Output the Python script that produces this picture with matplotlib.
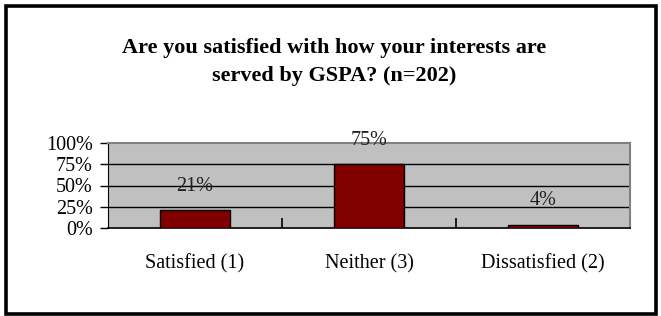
import matplotlib
matplotlib.use('Agg')
import matplotlib.pyplot as plt
from matplotlib.patches import Rectangle

# survey data
categories = ['Satisfied (1)', 'Neither (3)', 'Dissatisfied (2)']
values = [21, 75, 4]
value_labels = ['21%', '75%', '4%']
yticks = [0, 25, 50, 75, 100]
ytick_labels = ['0%', '25%', '50%', '75%', '100%']
title = 'Are you satisfied with how your interests are\nserved by GSPA? (n=202)'

plt.rcParams['font.family'] = ['Liberation Serif', 'DejaVu Serif']

W, H = 661, 316
fig = plt.figure(figsize=(W / 100, H / 100), dpi=100)

# plot area in pixels: x 108..630, y 143..228
ax = fig.add_axes([108 / W, (H - 228) / H, 522 / W, 85 / H])
ax.set_facecolor('#C0C0C0')

x = list(range(len(categories)))
ax.bar(x, values, width=0.4, color='#800000', edgecolor='black', linewidth=1, zorder=3)

for xi, v, lab in zip(x, values, value_labels):
    ax.annotate(lab, xy=(xi, v), xytext=(0, 17), textcoords='offset points',
                ha='center', va='center', fontsize=14.5, color='#222222', zorder=4)

ax.set_xlim(-0.5, len(categories) - 0.5)
ax.set_ylim(0, 100)

ax.set_yticks(yticks)
ax.set_yticklabels(ytick_labels, fontsize=14.5)
ax.tick_params(axis='y', direction='out', length=6, width=1, pad=5)

ax.set_xticks(x)
ax.set_xticklabels(categories, fontsize=14.5)
ax.tick_params(axis='x', which='major', length=0, pad=19)
ax.set_xticks([0.5, 1.5, 2.5], minor=True)
ax.tick_params(axis='x', which='minor', direction='in', length=7, width=1.2, zorder=5)

for yv in yticks[1:-1]:
    ax.axhline(yv, color='black', linewidth=1, zorder=2)

ax.spines['left'].set_color('black')
ax.spines['bottom'].set_color('black')
ax.spines['bottom'].set_linewidth(1.2)
ax.spines['top'].set_color('#808080')
ax.spines['right'].set_color('#808080')
ax.spines['top'].set_linewidth(1.5)
ax.spines['right'].set_linewidth(1.5)

fig.text(334 / W, 1 - 62 / H, title, ha='center', va='center', fontsize=16,
         fontweight='bold', linespacing=1.6)

# outer frame
fig.patches.append(Rectangle((6 / W, 2 / H), 650 / W, 308 / H, transform=fig.transFigure,
                             fill=False, edgecolor='black', linewidth=2.6))

fig.savefig('out.png', dpi=100)
